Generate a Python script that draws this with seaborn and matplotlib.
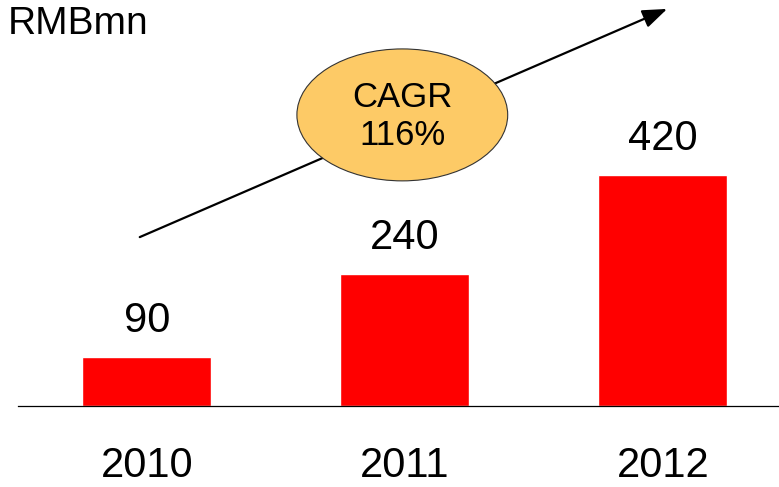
import matplotlib
matplotlib.use("Agg")
import matplotlib.pyplot as plt
from matplotlib.patches import Ellipse
import seaborn as sns

# chart data
years = ["2010", "2011", "2012"]
revenue = [90, 240, 420]
unit_label = "RMBmn"
cagr_text = "CAGR\n116%"

sns.set_style("white")
plt.rcParams["font.family"] = ["Liberation Sans", "DejaVu Sans"]
plt.rcParams["text.color"] = "black"
plt.rcParams["xtick.color"] = "black"

fig = plt.figure(figsize=(7.79, 4.87), dpi=100)
# axes: left edge at 18px, baseline at 406px from top, top at image top
ax = fig.add_axes([18 / 779, 81 / 487, 761 / 779, 406 / 487])

sns.barplot(x=years, y=revenue, color="#FF0000", saturation=1, width=0.5, ax=ax)

ax.set_xlim(-0.5, 2.45)
ax.set_ylim(0, 739)
ax.set_xlabel("")
ax.set_ylabel("")
ax.set_yticks([])
ax.tick_params(axis="x", length=0, pad=29, labelsize=30, colors="black")

for side in ["top", "right", "left"]:
    ax.spines[side].set_visible(False)
ax.spines["bottom"].set_color("black")
ax.spines["bottom"].set_linewidth(0.9)

# value labels above bars
ax.bar_label(ax.containers[0], labels=[str(v) for v in revenue],
             padding=11.5, fontsize=30, color="black")

# growth arrow
ax.annotate("", xy=(0.853, 0.978), xytext=(0.160, 0.416),
            xycoords="axes fraction", textcoords="axes fraction",
            arrowprops=dict(arrowstyle="-|>,head_length=0.75,head_width=0.28",
                            mutation_scale=20, color="black", lw=1.6,
                            shrinkA=0, shrinkB=0),
            zorder=3)

# CAGR bubble
ax.add_patch(Ellipse((0.505, 0.717), 0.277, 0.325, transform=ax.transAxes,
                     facecolor="#FDCA66", edgecolor="#333333", lw=0.8,
                     zorder=4, clip_on=False))
ax.text(0.505, 0.713, cagr_text, transform=ax.transAxes, ha="center",
        va="center", fontsize=25, linespacing=1.2, zorder=5, color="black")

fig.text(8 / 779, 1 - 6 / 487, unit_label, ha="left", va="top", fontsize=28,
         color="black")

fig.savefig("out.png", dpi=100)
